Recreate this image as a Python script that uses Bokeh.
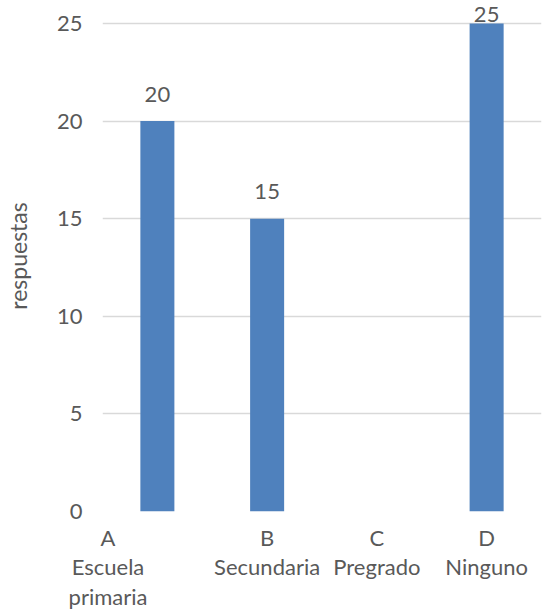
from bokeh.plotting import figure
from bokeh.models import ColumnDataSource, Label, FixedTicker, Range1d
from bokeh.embed import file_html
from bokeh.resources import INLINE

# Survey answers per option
categories = ["A", "B", "C", "D"]
descriptions = ["Escuela\nprimaria", "Secundaria", "Pregrado", "Ninguno"]
responses = [20, 15, 0, 25]
y_ticks = [0, 5, 10, 15, 20, 25]

# Styling helpers: horizontal shift of each category caption (in slot units)
# and lift of each value label above its bar (in pixels)
category_label_shift = [-0.45, 0, 0, 0]
value_label_lift = [27, 27, 27, 9]

FONT = "Lato"
FONT_SIZE = "22px"
TEXT_COLOR = "#595959"
BAR_COLOR = "#4F81BD"
GRID_COLOR = "#D9D9D9"

# Categories sit at slots 1..n on a numeric scale
slots = list(range(1, len(categories) + 1))
source = ColumnDataSource(data=dict(slot=slots, resp=responses))

# Vertical scale: 0..25 over 488 px, with headroom above 25 for the top caption
px_per_unit = 488 / 25
p = figure(
    x_range=Range1d(0.5, len(categories) + 0.5),
    y_range=Range1d(0, 25 + 23 / px_per_unit),
    width=548,
    height=612,
    output_backend="svg",
    toolbar_location=None,
    min_border_left=101,
    min_border_right=7,
    min_border_top=0,
    min_border_bottom=101,
)

p.vbar(x="slot", top="resp", width=0.31, source=source,
       fill_color=BAR_COLOR, line_color=None)

# Y axis
p.yaxis.ticker = FixedTicker(ticks=y_ticks)
p.yaxis.axis_label = "respuestas"
p.yaxis.axis_label_text_font = FONT
p.yaxis.axis_label_text_font_size = "23px"
p.yaxis.axis_label_text_font_style = "normal"
p.yaxis.axis_label_text_color = TEXT_COLOR
p.yaxis.axis_label_standoff = 22
p.yaxis.major_label_text_font = FONT
p.yaxis.major_label_text_font_size = FONT_SIZE
p.yaxis.major_label_text_color = TEXT_COLOR
p.yaxis.major_label_standoff = 14
p.yaxis.axis_line_color = None
p.yaxis.major_tick_line_color = None
p.yaxis.minor_tick_line_color = None

# X axis: one multi-line caption per category
x_ticks = [round(s + sh, 2) for s, sh in zip(slots, category_label_shift)]
p.xaxis.ticker = FixedTicker(ticks=x_ticks)
p.xaxis.major_label_overrides = {
    t: f"{c}\n{d}" for t, c, d in zip(x_ticks, categories, descriptions)
}
p.xaxis.major_label_text_font = FONT
p.xaxis.major_label_text_font_size = FONT_SIZE
p.xaxis.major_label_text_color = TEXT_COLOR
p.xaxis.major_label_text_line_height = 1.1
p.xaxis.major_label_standoff = 6
p.xaxis.axis_line_color = None
p.xaxis.major_tick_line_color = None
p.xaxis.minor_tick_line_color = None

p.xgrid.grid_line_color = None
p.ygrid.grid_line_color = GRID_COLOR
p.ygrid.grid_line_width = 1.5
p.outline_line_color = None
p.background_fill_color = "white"
p.border_fill_color = "white"

# Value labels only for the options that received answers
for slot, resp, lift in zip(slots, responses, value_label_lift):
    if resp > 0:
        p.add_layout(Label(
            x=slot, y=resp, text=str(resp), y_offset=lift,
            text_align="center", text_baseline="alphabetic",
            text_font=FONT, text_font_size=FONT_SIZE, text_color=TEXT_COLOR,
        ))

open("out.html", "w").write(file_html(p, INLINE))
